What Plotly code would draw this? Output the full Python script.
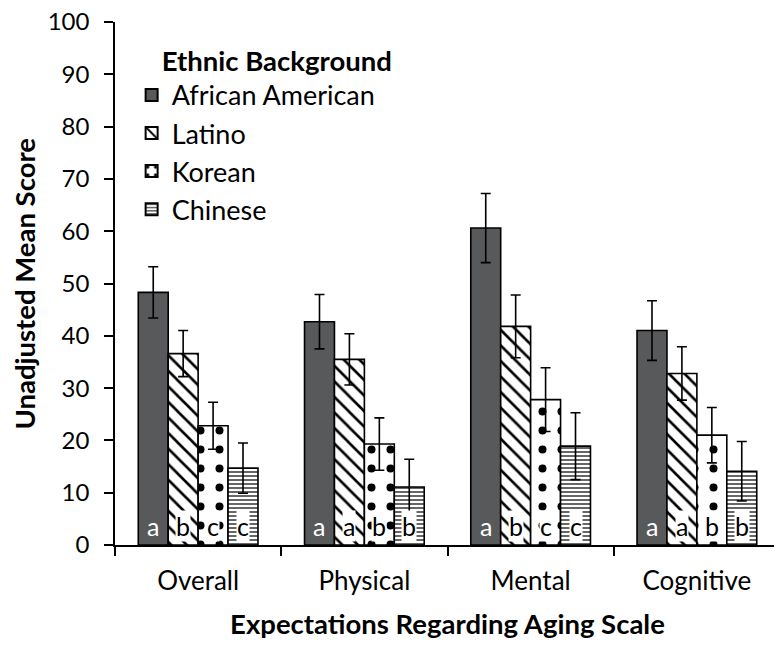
import plotly.graph_objects as go

categories = ["Overall", "Physical", "Mental", "Cognitive"]
groups = ["African American", "Latino", "Korean", "Chinese"]
values = {
    "African American": [48.3, 42.7, 60.6, 41.0],
    "Latino": [36.6, 35.5, 41.8, 32.8],
    "Korean": [22.8, 19.3, 27.8, 21.0],
    "Chinese": [14.7, 11.1, 18.9, 14.1],
}
errors = {
    "African American": [4.9, 5.2, 6.6, 5.7],
    "Latino": [4.4, 4.9, 6.0, 5.1],
    "Korean": [4.5, 5.0, 6.1, 5.3],
    "Chinese": [4.8, 5.3, 6.4, 5.7],
}
letters = {
    "African American": ["a", "a", "a", "a"],
    "Latino": ["b", "a", "b", "a"],
    "Korean": ["c", "b", "c", "b"],
    "Chinese": ["c", "b", "c", "b"],
}

FONT = "Lato"
styles = {
    "African American": dict(color="#58595b", pattern=dict(shape="")),
    "Latino": dict(color="white", pattern=dict(shape="\\", fgcolor="black", fgopacity=1, size=11, solidity=0.24, bgcolor="white")),
    "Korean": dict(color="white", pattern=dict(shape=".", fgcolor="black", fgopacity=1, size=19, solidity=0.14, bgcolor="white")),
    "Chinese": dict(color="white", pattern=dict(shape="-", fgcolor="black", fgopacity=1, size=4, solidity=0.3, bgcolor="white")),
}

fig = go.Figure()
for g in groups:
    st = styles[g]
    fig.add_trace(go.Bar(
        name=g, x=categories, y=values[g],
        marker=dict(color=st["color"], pattern=st["pattern"], line=dict(color="black", width=1.6)),
        error_y=dict(type="data", array=errors[g], color="black", thickness=1.6, width=5),
    ))

bargap = 0.28
bw = (1 - bargap) / len(groups)
for gi, g in enumerate(groups):
    off = (gi - (len(groups) - 1) / 2) * bw
    for ci, c in enumerate(categories):
        fig.add_annotation(
            x=ci + off, y=0, xref="x", yref="y", yanchor="bottom", yshift=3,
            text=letters[g][ci], showarrow=False,
            font=dict(family=FONT, size=25, color="white" if gi == 0 else "black"),
            bgcolor=None if gi == 0 else "white", borderpad=0,
        )

# y-axis title
fig.add_annotation(
    x=0, y=0.5, xref="paper", yref="paper", xanchor="center", yanchor="middle",
    xshift=-91, textangle=-90, showarrow=False,
    text="<b>Unadjusted Mean Score</b>", font=dict(family=FONT, size=27.5, color="black"),
)

fig.update_layout(
    width=782, height=647,
    margin=dict(l=107, r=10, t=14, b=110),
    plot_bgcolor="white", paper_bgcolor="white",
    barmode="group", bargap=bargap, bargroupgap=0,
    font=dict(family=FONT, size=23, color="black"),
    showlegend=True,
    legend=dict(
        title=dict(text="&nbsp;&nbsp;&nbsp;&nbsp;<b>Ethnic Background</b>", font=dict(family=FONT, size=27.5)),
        x=0.025, y=0.975, xanchor="left", yanchor="top",
        font=dict(family=FONT, size=27), bgcolor="rgba(0,0,0,0)",
        itemsizing="constant", tracegroupgap=0,
    ),
    xaxis=dict(
        showline=True, linecolor="black", linewidth=1.6, automargin=False,
        ticks="outside", tickson="boundaries", ticklen=9, tickwidth=1.6, tickcolor="black",
        tickfont=dict(family=FONT, size=26), ticklabelstandoff=12,
        title=dict(text="<b>Expectations Regarding Aging Scale</b>", font=dict(family=FONT, size=27.5), standoff=20),
        range=[-0.5, 3.5],
    ),
    yaxis=dict(
        range=[0, 100], dtick=10, showgrid=False, zeroline=False, automargin=False,
        showline=True, linecolor="black", linewidth=1.6,
        ticks="outside", ticklen=9, tickwidth=1.6, tickcolor="black",
        tickfont=dict(family=FONT, size=24), ticklabelstandoff=10, ticklabeloverflow="allow",
    ),
)

fig.write_html("out.html")
